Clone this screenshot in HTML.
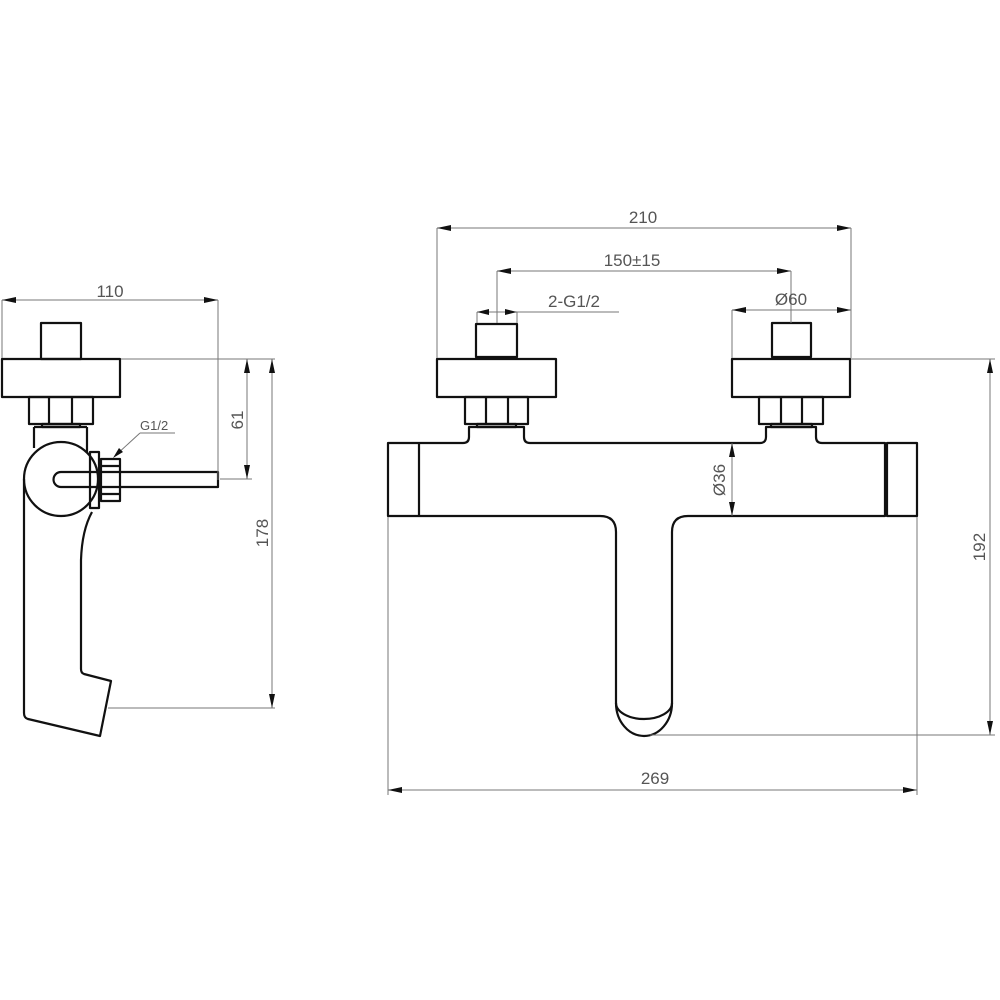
<!DOCTYPE html>
<html><head><meta charset="utf-8"><style>
html,body{margin:0;padding:0;background:#fff}
svg{display:block}
.o{fill:none;stroke:#111;stroke-width:2.2;stroke-linejoin:round}
.d{fill:none;stroke:#777;stroke-width:1}
.a{fill:#111}
text{font-family:"Liberation Sans",sans-serif;font-size:17px;fill:#555;font-weight:300}
</style></head><body>
<svg width="1000" height="1000" viewBox="0 0 1000 1000" xmlns="http://www.w3.org/2000/svg">
<!-- LEFT VIEW -->
<rect class="o" x="41" y="323" width="40" height="36"/>
<rect class="o" x="2" y="359" width="118" height="38"/>
<rect class="o" x="29" y="397" width="64" height="27"/>
<line class="o" x1="49" y1="397" x2="49" y2="424"/><line class="o" x1="72" y1="397" x2="72" y2="424"/>
<rect class="o" x="42" y="424" width="38" height="3"/>
<path class="o" d="M34 427 V448 M87 427 V453 M34 427 H87"/>
<circle class="o" cx="61" cy="479" r="37" fill="#fff"/>
<path class="o" d="M24 479 V713 Q24 718 28 719 L100 736 L111 681 L84 674 Q81 673 81 669 V560 Q82 530 92 512"/>
<path class="o" d="M218 472 H61 A7.5 7.5 0 0 0 61 487 H218 Z"/>
<rect class="o" x="90" y="452" width="9" height="56"/>
<rect class="o" x="101" y="459" width="19" height="42"/>
<line class="o" x1="101" y1="466" x2="120" y2="466"/><line class="o" x1="101" y1="494" x2="120" y2="494"/>
<!-- left dims -->
<path class="d" d="M2 300 H218 M2 300 V358 M218 300 V480 M121 359 H275 M220 479 H252 M108 708 H275 M247 359 V479 M272 359 V708"/>
<polygon class="a" points="2,300 16,297 16,303"/><polygon class="a" points="218,300 204,297 204,303"/>
<polygon class="a" points="247,359 244,373 250,373"/><polygon class="a" points="247,479 244,465 250,465"/>
<polygon class="a" points="272,359 269,373 275,373"/><polygon class="a" points="272,708 269,694 275,694"/>
<text x="110" y="297" text-anchor="middle">110</text>
<text transform="translate(243,420) rotate(-90)" text-anchor="middle">61</text>
<text transform="translate(268,533) rotate(-90)" text-anchor="middle">178</text>
<path class="d" d="M140 433 H175 M140 433 L116 455"/>
<polygon class="a" points="113,458 119,448 123,452"/>
<text x="140" y="430" style="font-size:13px">G1/2</text>
<!-- RIGHT VIEW -->
<rect class="o" x="476" y="324" width="41" height="33"/>
<rect class="o" x="437" y="359" width="119" height="38"/>
<rect class="o" x="465" y="397" width="63" height="27"/>
<line class="o" x1="486" y1="397" x2="486" y2="424"/><line class="o" x1="508" y1="397" x2="508" y2="424"/>
<rect class="o" x="772" y="323" width="39" height="34"/>
<rect class="o" x="732" y="359" width="118" height="38"/>
<rect class="o" x="759" y="397" width="64" height="27"/>
<line class="o" x1="781" y1="397" x2="781" y2="424"/><line class="o" x1="802" y1="397" x2="802" y2="424"/>
<path class="o" d="M388 443 H463 Q469 443 469 437 V427 H524 V437 Q524 443 530 443 H760 Q766 443 766 437 V427 H816 V437 Q816 443 822 443 H885 V516 H688 Q672 516 672 532 V703 A28 33 0 0 1 616 703 V532 Q616 516 600 516 H388 Z"/>
<rect class="o" x="477" y="424" width="39" height="3"/>
<rect class="o" x="771" y="424" width="41" height="3"/>
<line class="o" x1="419" y1="443" x2="419" y2="516"/>
<rect class="o" x="887" y="443" width="30" height="73"/>
<path class="o" d="M616 703 A28 16 0 0 0 672 703"/>
<!-- right dims -->
<path class="d" d="M437 228 H851 M437 228 V358 M851 228 V358 M497 271 H791 M497 271 V323 M791 271 V323 M477 312 H619 M477 312 V323 M517 312 V323 M732 310 H851 M732 310 V358 M851 359 H995 M650 735 H995 M990 359 V735 M732 443 V516 M388 517 V795 M917 517 V795 M388 790 H917"/>
<polygon class="a" points="437,228 451,225 451,231"/><polygon class="a" points="851,228 837,225 837,231"/>
<polygon class="a" points="497,271 511,268 511,274"/><polygon class="a" points="791,271 777,268 777,274"/>
<polygon class="a" points="477,312 489,309 489,315"/><polygon class="a" points="517,312 505,309 505,315"/>
<polygon class="a" points="732,310 746,307 746,313"/><polygon class="a" points="851,310 837,307 837,313"/>
<polygon class="a" points="990,359 987,373 993,373"/><polygon class="a" points="990,735 987,721 993,721"/>
<polygon class="a" points="732,443 729,457 735,457"/><polygon class="a" points="732,516 729,502 735,502"/>
<polygon class="a" points="388,790 402,787 402,793"/><polygon class="a" points="917,790 903,787 903,793"/>
<text x="643" y="223" text-anchor="middle">210</text>
<text x="632" y="266" text-anchor="middle">150±15</text>
<text x="574" y="307" text-anchor="middle">2-G1/2</text>
<text x="791" y="305" text-anchor="middle">Ø60</text>
<text transform="translate(725,480) rotate(-90)" text-anchor="middle">Ø36</text>
<text transform="translate(985,547) rotate(-90)" text-anchor="middle">192</text>
<text x="655" y="784" text-anchor="middle">269</text>
</svg>
</body></html>
